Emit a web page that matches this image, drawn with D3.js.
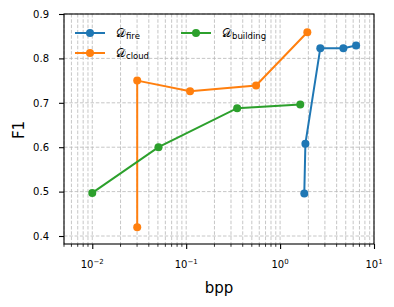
<!DOCTYPE html>
<html><head><meta charset="utf-8">
<script src="https://cdn.jsdelivr.net/npm/d3@7"></script>
<style>body{margin:0;background:#fff}svg{font-family:"DejaVu Sans",sans-serif}</style>
</head><body><svg id="chart" width="394" height="307"></svg>
<script>
// series data (bpp, F1)
const fireBpp = [1.81, 1.86, 2.68, 4.72, 6.45];
const fireF1 = [0.496, 0.608, 0.823, 0.823, 0.829];
const cloudBpp = [0.0301, 0.0301, 0.110, 0.555, 1.95];
const cloudF1 = [0.420, 0.750, 0.726, 0.739, 0.859];
const buildingBpp = [0.01, 0.0507, 0.349, 1.64];
const buildingF1 = [0.497, 0.600, 0.688, 0.696];
const seriesNames = ["fire", "cloud", "building"];
const colors = ["#1f77b4", "#ff7f0e", "#2ca02c"];
const yTicks = [0.4, 0.5, 0.6, 0.7, 0.8, 0.9];
const xTicks = [0.01, 0.1, 1, 10];

const svg = d3.select("#chart");
const m = {l: 64, r: 374, t: 14, b: 244};
const x = d3.scaleLog().domain([0.005, 10]).range([m.l, m.r]);
const y = d3.scaleLinear().domain([0.382, 0.9]).range([m.b, m.t]);

// minor ticks
const minor = [];
for (let e = -3; e <= 1; e++) for (let k = 1; k < 10; k++) {
  const v = k * Math.pow(10, e);
  if (v >= 0.005 && v <= 10) minor.push(v);
}

const grid = svg.append("g").attr("stroke", "#b8b8b8").attr("stroke-width", 0.8).attr("stroke-dasharray", "3.5,1.8");
grid.selectAll("line.v").data(minor).join("line")
  .attr("x1", d => x(d)).attr("x2", d => x(d)).attr("y1", m.t).attr("y2", m.b);
grid.selectAll("line.h").data(yTicks).join("line")
  .attr("x1", m.l).attr("x2", m.r).attr("y1", d => y(d)).attr("y2", d => y(d));

const data = [
  fireBpp.map((b, i) => [b, fireF1[i]]),
  cloudBpp.map((b, i) => [b, cloudF1[i]]),
  buildingBpp.map((b, i) => [b, buildingF1[i]])
];
const line = d3.line().x(d => x(d[0])).y(d => y(d[1]));
data.forEach((s, i) => {
  const g = svg.append("g");
  g.append("path").attr("d", line(s)).attr("fill", "none").attr("stroke", colors[i]).attr("stroke-width", 2);
  g.selectAll("circle").data(s).join("circle")
    .attr("cx", d => x(d[0])).attr("cy", d => y(d[1])).attr("r", 4).attr("fill", colors[i]);
});

// frame
svg.append("rect").attr("x", m.l).attr("y", m.t).attr("width", m.r - m.l).attr("height", m.b - m.t)
  .attr("fill", "none").attr("stroke", "#000").attr("stroke-width", 1.1);

// axes
const xAxis = d3.axisBottom(x).tickValues(xTicks).tickSize(5).tickFormat("");
const gx = svg.append("g").attr("transform", `translate(0,${m.b})`).call(xAxis);
gx.select(".domain").remove();
gx.selectAll("line").attr("stroke-width", 1.1);
gx.selectAll(".minor").data(minor.filter(v => !xTicks.includes(v))).join("line")
  .attr("class", "minor").attr("x1", d => x(d)).attr("x2", d => x(d)).attr("y1", 0).attr("y2", 2.8)
  .attr("stroke", "#000").attr("stroke-width", 0.8);
xTicks.forEach(v => {
  const t = svg.append("text").attr("x", x(v)).attr("y", 268).attr("text-anchor", "middle")
    .attr("font-size", 10).attr("fill", "#000");
  t.append("tspan").text("10");
  t.append("tspan").attr("font-size", 7).attr("dy", -4.5).text(String(Math.round(Math.log10(v))).replace("-", "\u2212"));
});

const yAxis = d3.axisLeft(y).tickValues(yTicks).tickSize(5).tickPadding(10).tickFormat(d3.format(".1f"));
const gy = svg.append("g").attr("transform", `translate(${m.l},0)`).call(yAxis);
gy.select(".domain").remove();
gy.selectAll("line").attr("stroke-width", 1.1);
gy.selectAll("text").attr("font-size", 10).attr("font-family", "DejaVu Sans");

svg.append("text").attr("x", 219).attr("y", 293).attr("text-anchor", "middle")
  .attr("font-size", 15).text("bpp");
svg.append("text").attr("transform", "translate(24,130) rotate(-90)").attr("text-anchor", "middle")
  .attr("font-size", 15).text("F1");

// legend
const legPos = [[75, 33], [75, 53], [181, 33]];
seriesNames.forEach((n, i) => {
  const [lx, ly] = legPos[i];
  const g = svg.append("g");
  g.append("line").attr("x1", lx).attr("x2", lx + 30).attr("y1", ly).attr("y2", ly)
    .attr("stroke", colors[i]).attr("stroke-width", 2);
  g.append("circle").attr("cx", lx + 15).attr("cy", ly).attr("r", 4).attr("fill", colors[i]);
  const t = g.append("text").attr("x", lx + 41).attr("y", ly + 4).attr("font-size", 12);
  t.append("tspan").attr("font-family", "DejaVu Serif").text("\uD835\uDC9F");
  t.append("tspan").attr("font-size", 8.5).attr("dy", 2).text(n);
});
</script></body></html>
